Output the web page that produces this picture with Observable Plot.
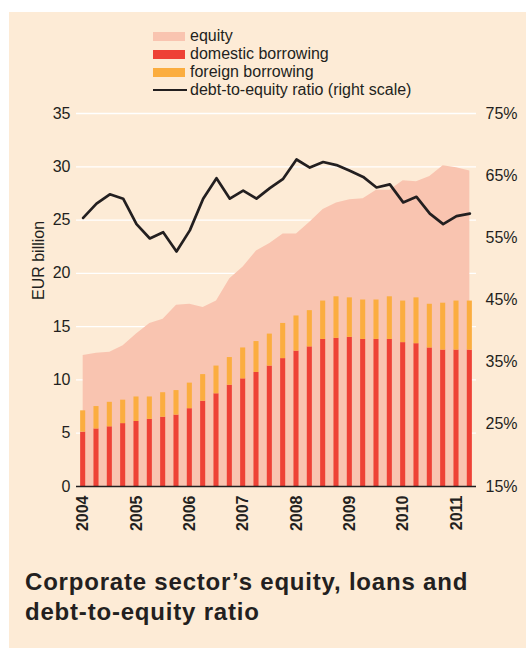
<!DOCTYPE html>
<html>
<head>
<meta charset="utf-8">
<script src="https://cdn.jsdelivr.net/npm/d3@7"></script>
<script src="https://cdn.jsdelivr.net/npm/@observablehq/plot@0.6"></script>
<style>
  html, body { margin: 0; padding: 0; background: #ffffff; }
  body { width: 526px; height: 648px; position: relative; overflow: hidden;
         font-family: "Liberation Sans", Arial, Helvetica, sans-serif; color: #231f20; }
  #panel { position: absolute; left: 9px; top: 12px; width: 517px; height: 636px; background: #fdebd6; }
  #chart { position: absolute; left: 0; top: 0; }
  #legend { position: absolute; left: 153px; top: 27px; font-size: 16px; line-height: 18px; }
  .row { display: flex; align-items: center; height: 18px; white-space: nowrap; }
  .sw { width: 32px; height: 9px; margin-right: 5px; }
  .ln { width: 34px; height: 2.5px; margin-right: 3px; background: #231f20; }
  #title { position: absolute; left: 25px; top: 567px; font-size: 24px; line-height: 30px;
           font-weight: bold; letter-spacing: 0.8px; color: #231f20; }
</style>
</head>
<body>
<div id="panel"></div>
<div id="chart"></div>
<div id="legend">
  <div class="row"><div class="sw" style="background:#f9c4b0"></div>equity</div>
  <div class="row"><div class="sw" style="background:#ee4136"></div>domestic borrowing</div>
  <div class="row"><div class="sw" style="background:#fbad3f"></div>foreign borrowing</div>
  <div class="row"><div class="ln"></div>debt-to-equity ratio (right scale)</div>
</div>
<div id="title">Corporate sector’s equity, loans and<br>debt-to-equity ratio</div>
<script>
const quarters = [
  "2004Q1","2004Q2","2004Q3","2004Q4","2005Q1","2005Q2","2005Q3","2005Q4",
  "2006Q1","2006Q2","2006Q3","2006Q4","2007Q1","2007Q2","2007Q3","2007Q4",
  "2008Q1","2008Q2","2008Q3","2008Q4","2009Q1","2009Q2","2009Q3","2009Q4",
  "2010Q1","2010Q2","2010Q3","2010Q4","2011Q1","2011Q2"
];
// EUR billion
const equity = [12.3,12.5,12.6,13.2,14.3,15.3,15.7,17.0,17.1,16.8,17.4,19.5,20.6,22.1,22.8,
                23.7,23.7,24.8,26.0,26.6,26.9,27.0,27.8,27.8,28.7,28.6,29.1,30.1,29.9,29.6];
const domestic = [5.1,5.4,5.6,5.9,6.1,6.3,6.5,6.7,7.3,8.0,8.7,9.5,10.1,10.7,11.3,
                  12.0,12.7,13.1,13.8,13.9,14.0,13.8,13.8,13.8,13.5,13.4,13.0,12.8,12.8,12.8];
const foreign = [2.0,2.1,2.3,2.2,2.3,2.1,2.3,2.3,2.4,2.5,2.6,2.6,2.9,2.9,3.0,
                 3.3,3.3,3.4,3.6,3.9,3.7,3.7,3.7,4.0,3.9,4.3,4.1,4.4,4.6,4.6];
// percent, right scale
const ratio = [58.2,60.5,62.0,61.3,57.2,54.9,55.9,52.8,56.2,61.3,64.6,61.3,62.6,61.3,63.0,
               64.5,67.6,66.3,67.2,66.7,65.8,64.8,63.1,63.6,60.7,61.6,58.9,57.2,58.5,58.9];

const yearTicks = [2004,2005,2006,2007,2008,2009,2010,2011];
const leftTicks = [0,5,10,15,20,25,30,35];
const rightTicks = [15,25,35,45,55,65,75];
const rightLabels = ["15%","25%","35%","45%","55%","65%","75%"];

// right scale (15%..75%) mapped onto left scale (0..35)
const toLeft = p => (p - 15) * 35 / 60;

const data = quarters.map((q, i) => ({
  q,
  t: +q.slice(0, 4) + (+q.slice(5) - 1) / 4,
  equity: equity[i],
  domestic: domestic[i],
  total: domestic[i] + foreign[i],
  ratio: ratio[i]
}));

const halfBar = 0.0475;
const ink = "#231f20";

const chart = Plot.plot({
  width: 526,
  height: 545,
  marginLeft: 76,
  marginRight: 50,
  marginTop: 113,
  marginBottom: 59,
  style: { background: "transparent", fontFamily: "'Liberation Sans', Arial, sans-serif", fontSize: "16px", color: ink, overflow: "visible" },
  x: { domain: [2003.875, 2011.375], axis: null },
  y: { domain: [0, 35], axis: null },
  marks: [
    Plot.ruleY(leftTicks.filter(d => d > 0), { stroke: "#ffffff", strokeWidth: 1.3 }),
    Plot.areaY(data, { x: "t", y: "equity", fill: "#f9c4b0" }),
    Plot.rectY(data, { x1: d => d.t - halfBar, x2: d => d.t + halfBar, y1: 0, y2: "domestic", fill: "#ee4136" }),
    Plot.rectY(data, { x1: d => d.t - halfBar, x2: d => d.t + halfBar, y1: "domestic", y2: "total", fill: "#fbad3f" }),
    Plot.ruleY([0], { stroke: ink, strokeWidth: 1.5 }),
    Plot.lineY(data, { x: "t", y: d => toLeft(d.ratio), stroke: ink, strokeWidth: 2.7 }),
    Plot.axisY(leftTicks, { anchor: "left", tickSize: 0, tickPadding: 6, label: null, fontSize: 16, fill: ink }),
    Plot.axisY(rightTicks.map(toLeft), { anchor: "right", tickSize: 0, tickPadding: 9, label: null,
      tickFormat: (d, i) => rightLabels[i], fontSize: 16, fill: ink }),
    Plot.axisX(yearTicks, { anchor: "bottom", tickSize: 0, tickPadding: 9, tickRotate: -90, label: null,
      tickFormat: d => String(d), fontWeight: "bold", fontSize: 16, fill: ink }),
    Plot.text(["EUR billion"], { frameAnchor: "left", dx: -38, rotate: -90, text: d => d, fontSize: 16, fill: ink })
  ]
});
document.getElementById("chart").appendChild(chart);
</script>
</body>
</html>
